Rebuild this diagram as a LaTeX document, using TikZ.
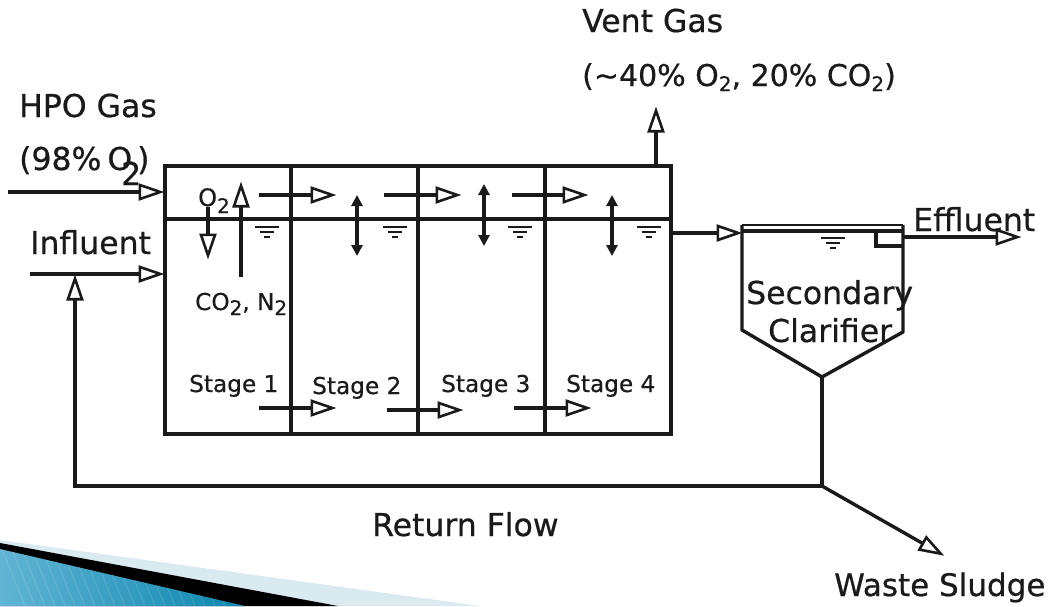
\documentclass[tikz,border=0pt]{standalone}
\usepackage{fontspec}
\setmainfont[FakeBold=0.6]{DejaVu Sans}
\usetikzlibrary{arrows.meta}
\definecolor{ink}{HTML}{1A1A1A}
\definecolor{wedge}{HTML}{D9EAF1}
\definecolor{bluea}{HTML}{62B4D4}
\definecolor{blueb}{HTML}{0B86AE}
\tikzset{
  lbl/.style={anchor=base west,inner sep=0pt,text=ink,font=\fontsize{31.5}{32}\selectfont},
  small/.style={anchor=base west,inner sep=0pt,text=ink,font=\fontsize{23.2}{24}\selectfont},
  flow/.style={draw=ink,line width=3.4pt,shorten >=-1.5pt,-{Triangle[open,length=26pt,width=17pt,line width=2.6pt,fill=white]}},
  thick line/.style={draw=ink,line width=3.4pt},
  updown/.style={draw=ink,line width=3.2pt,{Triangle[length=11pt,width=11pt]}-{Triangle[length=11pt,width=11pt]}},
}
\newcommand{\wl}[2]{%
  \draw[ink,line width=2.8pt] (#1-12,#2) -- (#1+12,#2);
  \draw[ink,line width=2.8pt] (#1-7,#2+5) -- (#1+7,#2+5);
  \draw[ink,line width=2.8pt] (#1-3,#2+10) -- (#1+3,#2+10);}
\newcommand{\sbs}[1]{\raisebox{-5pt}{\fontsize{20}{20}\selectfont #1}}
\begin{document}
\begin{tikzpicture}[x=1pt,y=-1pt]
\useasboundingbox (0,0) rectangle (1050,606);
% corner decoration
\fill[wedge] (0,540) -- (480,606) -- (0,606) -- cycle;
\fill[black] (0,543) -- (338,606) -- (0,606) -- cycle;
\shade[left color=bluea,right color=blueb] (0,549) -- (245,606) -- (0,606) -- cycle;
\begin{scope}
\clip (0,549) -- (245,606) -- (0,606) -- cycle;
\foreach \k in {0,10,...,260}{
  \draw[white,opacity=.12,line width=1pt] (\k,545) -- (\k+25,606);}
\end{scope}
% tank
\coordinate (tl) at (165,166);
\coordinate (br) at (671,434);
\draw[thick line] (tl) rectangle (br);
\coordinate (wl) at (165,219); \coordinate (wr) at (671,219);
\draw[thick line] (wl) -- (wr);
\foreach \x/\n in {291/a,418/b,545/c}{
  \coordinate (\n t) at (\x,166); \coordinate (\n b) at (\x,434);
  \draw[thick line] (\n t) -- (\n b);}
% inlet arrows
\coordinate (g0) at (8,192); \coordinate (g1) at (163,192);
\draw[flow] (g0) -- (g1);
\coordinate (i0) at (30,274); \coordinate (i1) at (163,274);
\draw[flow] (i0) -- (i1);
% gas-phase stage arrows
\foreach \a/\b/\y in {259/335/195,384/460/195,512/587/195,259/335/408,387/462/410,514/590/408}{
  \coordinate (s\a\y) at (\a,\y); \coordinate (e\a\y) at (\b,\y);
  \draw[flow] (s\a\y) -- (e\a\y);}
% mixers
\foreach \x/\t/\b in {357/195/256,484/184/246,612/195/256}{
  \coordinate (m\x) at (\x,\t); \coordinate (n\x) at (\x,\b);
  \draw[updown] (m\x) -- (n\x);}
% transfer
\coordinate (o0) at (208,207); \coordinate (o1) at (208,258);
\draw[flow] (o0) -- (o1);
\coordinate (c0) at (241,277); \coordinate (c1) at (241,183);
\draw[flow] (c0) -- (c1);
% vent
\coordinate (v0) at (656,166); \coordinate (v1) at (656,108);
\draw[flow] (v0) -- (v1);
% tank to clarifier
\coordinate (t0) at (671,233); \coordinate (t1) at (741,233);
\draw[flow] (t0) -- (t1);
% clarifier
\coordinate (k1) at (742,225); \coordinate (k2) at (903,225);
\coordinate (k3) at (903,332); \coordinate (k4) at (822,377); \coordinate (k5) at (742,330);
\draw[ink,line width=1.5pt] (k1) -- (k2);
\draw[thick line,line join=round] (k1) -- (k5) -- (k4) -- (k3) -- (k2);
\coordinate (w1) at (742,231); \coordinate (w2) at (903,231);
\draw[thick line] (w1) -- (w2);
\coordinate (w3) at (876,229); \coordinate (w4) at (876,246); \coordinate (w5) at (903,246);
\draw[thick line] (w3) -- (w4) -- (w5);
% effluent
\coordinate (f0) at (903,237); \coordinate (f1) at (1020,237);
\draw[flow] (f0) -- (f1);
% return
\coordinate (r0) at (75,486); \coordinate (r1) at (822,486); \coordinate (r2) at (75,276);
\draw[flow] (k4) -- (r1) -- (r0) -- (r2);
\coordinate (z) at (943,555);
\draw[flow] (r1) -- (z);
% water levels
\wl{267}{227}\wl{395}{227}\wl{520}{227}\wl{649}{227}\wl{833}{238}
% labels
\node[lbl] (hpo) at (19,117) {HPO Gas};
\node[lbl] (hpo2) at (19,170) {(98\%\hspace{-4pt} O};
\node[lbl] (hpo3) at (121,185) {2};
\node[lbl] (hpo4) at (137,170) {)};
\node[lbl] (inf) at (30,254) {Influent};
\node[lbl] (vent) at (582,32) {Vent Gas};
\node[lbl,font=\fontsize{30}{32}\selectfont] (vent2) at (582,86) {(\textasciitilde 40\% O\sbs{2}, 20\% CO\sbs{2})};
\node[lbl] (eff) at (913,231) {Effluent};
\node[lbl] (sec) at (746,304) {Secondary};
\node[lbl] (cla) at (768,342) {Clarifier};
\node[lbl] (ret) at (372,536) {Return Flow};
\node[lbl,font=\fontsize{31}{32}\selectfont] (was) at (834,596) {Waste Sludge};
\node[small,font=\fontsize{24}{24}\selectfont] (o2) at (198,206) {O\raisebox{-7pt}{\fontsize{20}{20}\selectfont 2}};
\node[small] (co) at (195,310) {CO\sbs{2}, N\sbs{2}};
\node[small] (s1) at (189,392) {Stage 1};
\node[small] (s2) at (312,394) {Stage 2};
\node[small] (s3) at (441,392) {Stage 3};
\node[small] (s4) at (566,392) {Stage 4};
\end{tikzpicture}
\end{document}
